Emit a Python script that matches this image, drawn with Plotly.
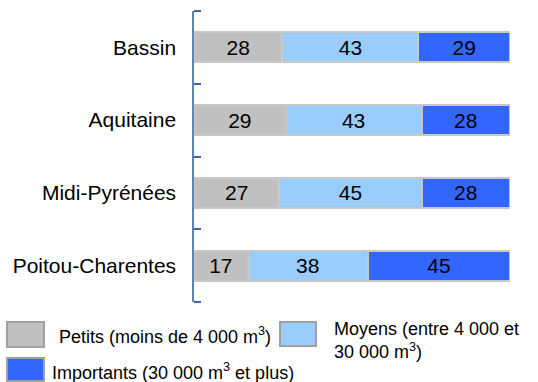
import plotly.graph_objects as go

# Regions (top to bottom) and share of farms per size class, in %
regions = ["Bassin", "Aquitaine", "Midi-Pyrénées", "Poitou-Charentes"]
petits = [28, 29, 27, 17]
moyens = [43, 43, 45, 38]
importants = [29, 28, 28, 45]

series_names = [
    "Petits (moins de 4 000 m<sup>3</sup>)",
    "Moyens (entre 4 000 et<br>30 000 m<sup>3</sup>)",
    "Importants (30 000 m<sup>3</sup> et plus)",
]
series_values = [petits, moyens, importants]
colors = ["#c0c0c0", "#99ccff", "#3366ff"]

FONT = "Liberation Sans, Arial, sans-serif"
W, H = 538, 382
L, R, T, B = 194, 28, 11, 80
TICK_COLOR = "#3f66a8"

fig = go.Figure()
for name, vals, col in zip(series_names, series_values, colors):
    fig.add_trace(go.Bar(
        y=regions, x=vals, orientation="h", name=name,
        marker=dict(color=col, line=dict(color="#c8c8c8", width=2)),
        text=[str(v) for v in vals], textposition="inside",
        insidetextanchor="middle",
        textfont=dict(family=FONT, size=21, color="black"),
        showlegend=False, hoverinfo="skip",
    ))

# Pixel -> paper conversion for the hand-built legend
pw, ph = W - L - R, H - T - B
def px(x):
    return (x - L) / pw
def py(y):
    return (H - B - y) / ph

# Ticks at the two ends of the category axis
for yy in (0, 1):
    fig.add_shape(type="line", xref="paper", yref="paper",
                  x0=0, x1=7 / pw, y0=yy, y1=yy,
                  line=dict(color=TICK_COLOR, width=2))

# Legend swatches and labels
swatches = [(7, 322, 44, 347), (280, 322, 316, 346), (7, 358, 44, 381)]
label_pos = [(57, 335), (332, 340), (50, 371)]
for (x0, y0, x1, y1), col, (tx, ty), name in zip(swatches, colors, label_pos, series_names):
    fig.add_shape(type="rect", xref="paper", yref="paper",
                  x0=px(x0), x1=px(x1), y0=py(y1), y1=py(y0),
                  fillcolor=col, line=dict(color="#a0a0a0", width=2))
    fig.add_annotation(xref="paper", yref="paper", x=px(tx), y=py(ty),
                       xanchor="left", yanchor="middle", align="left",
                       text=name, showarrow=False,
                       font=dict(family=FONT, size=18, color="black"))

fig.update_layout(
    width=W, height=H, barmode="stack", bargap=0.59,
    margin=dict(l=L, r=R, t=T, b=B),
    paper_bgcolor="white", plot_bgcolor="white",
    xaxis=dict(range=[0, 100], visible=False),
    yaxis=dict(
        categoryorder="array", categoryarray=regions,
        range=[3.5, -0.5],
        showline=True, linecolor="#5b82bd", linewidth=2,
        ticks="inside", tickson="boundaries", ticklen=7, tickcolor=TICK_COLOR,
        tickwidth=2, showgrid=False, ticksuffix="  ",
        tickfont=dict(family=FONT, size=21, color="black"),
    ),
)

fig.write_html("out.html")
